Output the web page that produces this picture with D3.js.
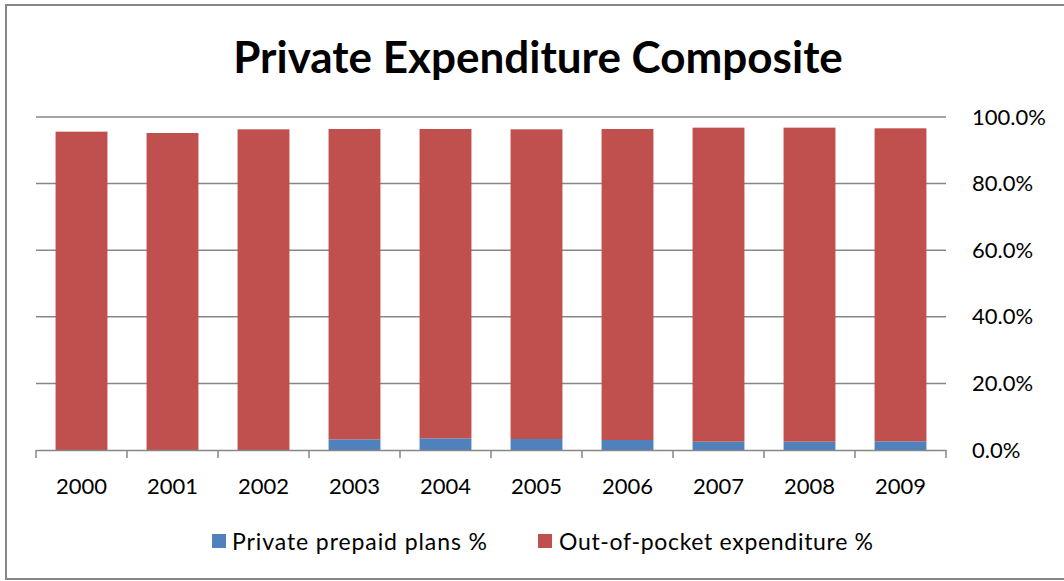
<!DOCTYPE html>
<html>
<head>
<meta charset="utf-8">
<script src="https://cdn.jsdelivr.net/npm/d3@7"></script>
<style>
  html, body { margin: 0; padding: 0; background: #fff; }
  svg { display: block; }
</style>
</head>
<body>
<svg id="chart" width="1064" height="581"></svg>
<script>
// Years on the category axis
const years = ["2000", "2001", "2002", "2003", "2004", "2005", "2006", "2007", "2008", "2009"];
// Share of private expenditure, in percent
const prepaidPlans = [0.0, 0.0, 0.0, 3.2, 3.5, 3.3, 3.0, 2.5, 2.5, 2.6];
const outOfPocket  = [95.6, 95.2, 96.3, 93.2, 92.9, 93.0, 93.4, 94.3, 94.3, 94.0];
// Value axis ticks
const yTicks = [0, 20, 40, 60, 80, 100];
const seriesNames = ["Private prepaid plans %", "Out-of-pocket expenditure %"];
const seriesColors = ["#4F81BD", "#C0504D"];

const font = "Lato, 'Open Sans', sans-serif";
const svg = d3.select("#chart");

// Outer frame
svg.append("rect")
  .attr("x", 6).attr("y", 5).attr("width", 1070).attr("height", 574)
  .attr("fill", "#fff").attr("stroke", "#878787").attr("stroke-width", 2);

const plot = { left: 36, right: 946, top: 117, bottom: 450 };

const x = d3.scaleBand().domain(years).range([plot.left, plot.right]).paddingInner(0.43).paddingOuter(0.215);
const y = d3.scaleLinear().domain([0, 100]).range([plot.bottom, plot.top]);

// Title
svg.append("text")
  .attr("x", 538).attr("y", 73)
  .attr("text-anchor", "middle")
  .attr("font-family", font).attr("font-weight", "bold").attr("font-size", 44)
  .attr("fill", "#000")
  .text("Private Expenditure Composite");

// Horizontal gridlines
svg.append("g").selectAll("line").data(yTicks.filter(d => d > 0)).join("line")
  .attr("x1", plot.left).attr("x2", plot.right)
  .attr("y1", d => y(d)).attr("y2", d => y(d))
  .attr("stroke", "#878787").attr("stroke-width", 1.5);

// Stacked bars
const stacked = d3.stack().keys([0, 1])(years.map((yr, i) => ({ year: yr, 0: prepaidPlans[i], 1: outOfPocket[i] })));
svg.append("g").selectAll("g").data(stacked).join("g")
  .attr("fill", (d, i) => seriesColors[i])
  .selectAll("rect").data(d => d).join("rect")
  .attr("x", d => x(d.data.year))
  .attr("width", x.bandwidth())
  .attr("y", d => y(d[1]))
  .attr("height", d => y(d[0]) - y(d[1]));

// Category axis
const xAxis = d3.axisBottom(x).tickSize(0).tickPadding(28).tickFormat(d => d);
const gx = svg.append("g").attr("transform", `translate(0,${plot.bottom})`).call(xAxis);
gx.select(".domain").attr("stroke", "#878787").attr("stroke-width", 1.5);
gx.selectAll("text").attr("font-family", font).attr("font-size", 22).attr("fill", "#000");
// Tick marks between categories
const boundaries = years.map(yr => x(yr) - x.step() * x.paddingInner() / 2).concat([plot.right]);
boundaries[0] = plot.left;
gx.selectAll("line.bound").data(boundaries).join("line")
  .attr("class", "bound")
  .attr("x1", d => d).attr("x2", d => d)
  .attr("y1", 0).attr("y2", 8)
  .attr("stroke", "#878787").attr("stroke-width", 1.5);

// Value axis labels on the right
const yAxis = d3.axisRight(y).tickValues(yTicks).tickSize(0).tickPadding(26).tickFormat(d => d.toFixed(1) + "%");
const gy = svg.append("g").attr("transform", `translate(${plot.right},0)`).call(yAxis);
gy.select(".domain").remove();
gy.selectAll("text").attr("font-family", font).attr("font-size", 22).attr("fill", "#000");

// Legend
const legendX = [212, 538];
const legendTextX = [20, 21];
const legendTextLen = [255, 314];
const lg = svg.append("g").selectAll("g").data(seriesNames).join("g")
  .attr("transform", (d, i) => `translate(${legendX[i]},534)`);
lg.append("rect").attr("width", 14).attr("height", 14).attr("fill", (d, i) => seriesColors[i]);
lg.append("text").attr("x", (d, i) => legendTextX[i]).attr("y", 16)
  .attr("font-family", font).attr("font-size", 23).attr("fill", "#000")
  .attr("textLength", (d, i) => legendTextLen[i]).attr("lengthAdjust", "spacing")
  .text(d => d);
</script>
</body>
</html>
